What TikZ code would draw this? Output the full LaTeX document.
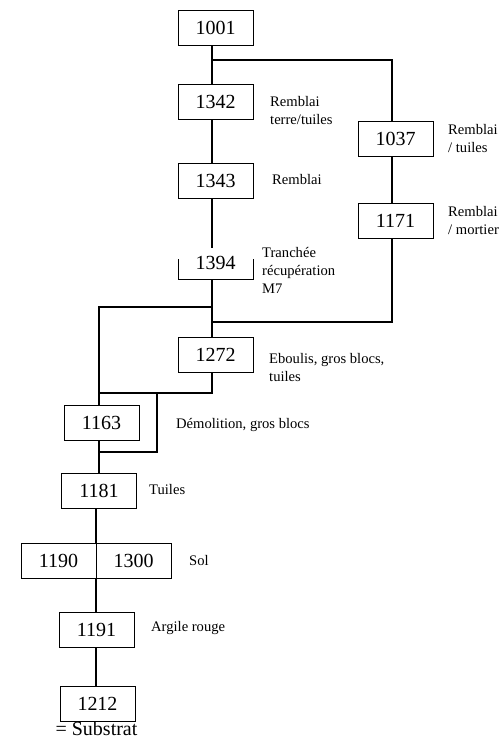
\documentclass[tikz,border=0pt]{standalone}
\usepackage{fontspec}
\setmainfont{Liberation Serif}
\begin{document}
\begin{tikzpicture}[x=1pt,y=-1pt,
  box/.style={draw,line width=1pt,minimum width=75pt,minimum height=35pt,inner sep=0pt,font=\fontsize{20}{22}\selectfont},
  lbl/.style={anchor=west,align=left,inner sep=0pt,font=\fontsize{14.6}{18}\selectfont},
  conn/.style={line width=1.3pt}]
\useasboundingbox (0,0) rectangle (502,740);
% trunk x positions
\coordinate (ta) at (212,0);
\coordinate (tb) at (392,0);
\coordinate (tc) at (99,0);
\coordinate (td) at (157,0);
\coordinate (te) at (96,0);
% boxes
\node[box] (n1001) at (215.5,27.5) {1001};
\node[box] (n1342) at (215.5,102) {1342};
\node[box] (n1037) at (395.5,139) {1037};
\node[box] (n1343) at (215.5,180.5) {1343};
\node[box] (n1171) at (395.5,220.5) {1171};
\node[minimum width=75pt,minimum height=31pt,inner sep=0pt,outer sep=0pt] (n1394) at (215.5,263.5) {};
\node[inner sep=0pt,font=\fontsize{20}{22}\selectfont] (t1394) at (215.5,263) {1394};
\node[box] (n1272) at (215.5,355) {1272};
\node[box] (n1163) at (101.5,422.5) {1163};
\node[box] (n1181) at (99,490.5) {1181};
\node[box] (n1190) at (58.5,560.5) {1190};
\node[box] (n1300) at (133.5,560.5) {1300};
\node[box] (n1191) at (96.5,629.5) {1191};
\node[box] (n1212) at (97.5,703.5) {1212};
\node[inner sep=0pt,font=\fontsize{20}{22}\selectfont] (sub) at (96.5,729) {= Substrat};
% bracket of 1394
\draw[line width=1pt] (n1394.south west) ++(0,-20) -- (n1394.south west) -- (n1394.south east) -- ++(0,-20);
% labels
\node[lbl] (l1342) at (270,111) {Remblai\\terre/tuiles};
\node[lbl] (l1037) at (448,139) {Remblai\\/ tuiles};
\node[lbl] (l1343) at (272,180) {Remblai};
\node[lbl] (l1171) at (448,220) {Remblai\\/ mortier};
\node[lbl] (l1394) at (262,270) {Tranchée\\récupération\\M7};
\node[lbl] (l1272) at (269,367) {Eboulis, gros blocs,\\tuiles};
\node[lbl] (l1163) at (176,425) {Démolition, gros blocs};
\node[lbl] (l1181) at (149,489) {Tuiles};
\node[lbl] (l1190) at (189,560) {Sol};
\node[lbl] (l1191) at (151,628) {Argile rouge};
% junctions
\coordinate (j1) at (212,60);
\coordinate (j2) at (212,322);
\coordinate (j3) at (212,307);
\coordinate (j4) at (99,393);
\coordinate (j5) at (99,452);
% connectors
\draw[conn] (n1001.south -| ta) -- (n1342.north -| ta);
\draw[conn] (j1) -| (n1037.north -| tb);
\draw[conn] (n1342.south -| ta) -- (n1343.north -| ta);
\draw[conn] (n1343.south -| ta) -- (n1394.north -| ta);
\draw[conn] (n1037.south -| tb) -- (n1171.north -| tb);
\draw[conn] (n1171.south -| tb) |- (j2);
\draw[conn] (n1394.south -| ta) -- (n1272.north -| ta);
\draw[conn] (j3) -| (n1163.north -| tc);
\draw[conn] (n1272.south -| ta) |- (j4);
\draw[conn] (j4 -| td) |- (j5);
\draw[conn] (n1163.south -| tc) -- (n1181.north -| tc);
\draw[conn] (n1181.south -| te) -- (n1300.north -| te);
\draw[conn] (n1300.south -| te) -- (n1191.north -| te);
\draw[conn] (n1191.south -| te) -- (n1212.north -| te);
\end{tikzpicture}
\end{document}
